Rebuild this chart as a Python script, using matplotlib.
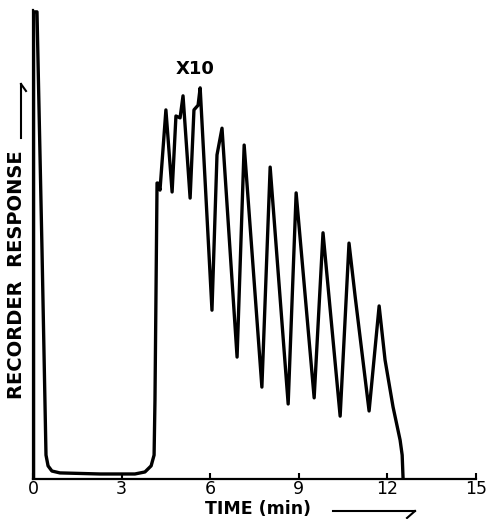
import matplotlib
matplotlib.use("Agg")
import matplotlib.pyplot as plt
from matplotlib.lines import Line2D

# Data: time (min) and recorder response (arbitrary units, 0-100)
time_min = [0.02, 0.02, 0.135, 0.305, 0.44, 0.51, 0.64, 0.91, 2.27, 3.45, 3.79, 4.00,
            4.10, 4.13, 4.20, 4.23, 4.30, 4.50, 4.71, 4.84, 4.98, 5.08, 5.32, 5.45,
            5.59, 5.66, 6.06, 6.23, 6.40, 6.91, 7.15, 7.75, 8.03, 8.64, 8.91, 9.52,
            9.82, 10.40, 10.70, 10.91, 11.38, 11.72, 11.92, 12.19, 12.43, 12.50, 12.53]
response = [0.0, 99.6, 99.6, 48.8, 5.1, 2.8, 1.7, 1.3, 1.07, 1.07, 1.5, 2.8,
            5.1, 16.8, 63.1, 63.1, 61.6, 78.7, 61.2, 77.4, 77.0, 81.7, 59.9, 78.7,
            79.7, 83.4, 36.0, 69.1, 74.8, 26.0, 71.2, 19.6, 66.5, 16.0, 61.0, 17.3,
            52.5, 13.4, 50.3, 38.8, 14.5, 36.9, 25.4, 15.4, 8.3, 5.1, 0.2]
x_ticks = [0, 3, 6, 9, 12, 15]
x_label = "TIME (min)"
y_label = "RECORDER  RESPONSE"
annotation = "X10"

W, H = 488, 519
fig = plt.figure(figsize=(W / 100, H / 100), dpi=100)
ax = fig.add_axes([33 / W, 1 - 479 / H, 443 / W, 469 / H])

ax.plot(time_min, response, color="black", lw=2.4, solid_joinstyle="round",
        solid_capstyle="round")
ax.set_xlim(0, 15)
ax.set_ylim(0, 100)

for s in ["top", "right"]:
    ax.spines[s].set_visible(False)
for s in ["left", "bottom"]:
    ax.spines[s].set_linewidth(1.6)

ax.set_xticks(x_ticks)
ax.set_xticklabels([str(v) for v in x_ticks], fontsize=12.5, family="DejaVu Sans")
ax.tick_params(axis="x", direction="in", length=4, width=1.5, pad=0.5)
ax.set_yticks([])

ax.text(5.5, 87.5, annotation, fontsize=13, fontweight="bold", ha="center",
        va="center", family="DejaVu Sans")

# Axis labels with half-arrows
fig.text(258 / W, 1 - 500 / H, x_label, fontsize=12.5, fontweight="bold",
         ha="center", va="top", family="DejaVu Sans")
fig.add_artist(Line2D([333 / W, 415 / W], [1 - 511 / H, 1 - 511 / H],
                      transform=fig.transFigure, color="black", lw=1.5))
fig.add_artist(Line2D([415 / W, 407 / W], [1 - 511 / H, 1 - 518 / H],
                      transform=fig.transFigure, color="black", lw=1.5))

fig.text(17 / W, 1 - 275 / H, y_label, fontsize=14, fontweight="bold",
         ha="center", va="center", rotation=90, family="DejaVu Sans")
fig.add_artist(Line2D([21 / W, 21 / W], [1 - 138 / H, 1 - 84 / H],
                      transform=fig.transFigure, color="black", lw=1.5))
fig.add_artist(Line2D([21 / W, 26 / W], [1 - 84 / H, 1 - 91 / H],
                      transform=fig.transFigure, color="black", lw=1.5))

fig.savefig("out.png", dpi=100)
